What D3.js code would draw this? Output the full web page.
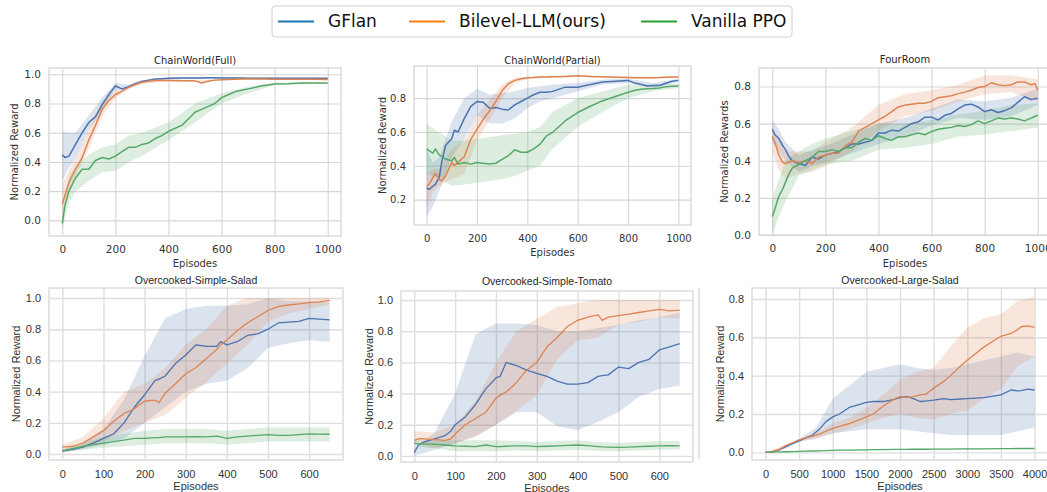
<!DOCTYPE html>
<html>
<head>
<meta charset="UTF-8">
<title>GFlan vs Bilevel-LLM vs Vanilla PPO</title>
<script src="https://d3js.org/d3.v7.min.js"></script>
<style>
  body { margin: 0; background: #fff; }
</style>
</head>
<body>
<svg id="chart"></svg>
<script>
const W = 1047, H = 492;

// ---------- data ----------
const seriesNames = ["GFlan", "Bilevel-LLM(ours)", "Vanilla PPO"];

const xTicks1000 = [0, 200, 400, 600, 800, 1000];
const xTicks650 = [0, 100, 200, 300, 400, 500, 600];
const xTicks4000 = [0, 500, 1000, 1500, 2000, 2500, 3000, 3500, 4000];
const yTicks10 = [0, 0.2, 0.4, 0.6, 0.8, 1.0];
const yTicks08 = [0, 0.2, 0.4, 0.6, 0.8];
const yTicksPartial = [0.2, 0.4, 0.6, 0.8];

// ChainWorld(Full)
const fullX = [0,10,25,50,75,100,125,150,175,200,225,250,275,300,325,350,375,400,450,500,525,550,575,600,625,650,675,700,750,800,850,900,950,1000];
const fullGflan = [0.45,0.43,0.44,0.52,0.60,0.67,0.71,0.79,0.86,0.92,0.90,0.915,0.935,0.95,0.96,0.968,0.97,0.972,0.974,0.975,0.975,0.976,0.976,0.975,0.975,0.974,0.974,0.973,0.972,0.972,0.972,0.972,0.972,0.972];
const fullBilevel = [0.11,0.17,0.26,0.35,0.43,0.55,0.65,0.76,0.82,0.86,0.885,0.91,0.93,0.945,0.952,0.957,0.958,0.957,0.956,0.955,0.94,0.952,0.96,0.963,0.965,0.966,0.967,0.967,0.967,0.966,0.966,0.966,0.966,0.965];
const fullPpo = [-0.02,0.10,0.20,0.29,0.35,0.35,0.41,0.43,0.42,0.44,0.47,0.50,0.50,0.52,0.53,0.56,0.58,0.61,0.65,0.74,0.76,0.78,0.80,0.84,0.86,0.88,0.89,0.90,0.92,0.933,0.935,0.94,0.94,0.94];
const fullBandX = [0,25,50,100,150,200,250,300,400,500,600,700,800,900,1000];
const fullGflanLo = [0.27,0.36,0.42,0.62,0.74,0.89,0.905,0.94,0.965,0.97,0.97,0.968,0.967,0.967,0.967];
const fullGflanHi = [0.61,0.60,0.60,0.72,0.84,0.94,0.93,0.96,0.978,0.98,0.98,0.978,0.977,0.977,0.977];
const fullBilevelLo = [0.04,0.18,0.30,0.49,0.71,0.84,0.895,0.935,0.95,0.945,0.957,0.962,0.962,0.962,0.96];
const fullBilevelHi = [0.25,0.34,0.42,0.62,0.82,0.885,0.925,0.955,0.964,0.962,0.968,0.972,0.971,0.971,0.97];
const fullPpoLo = [-0.06,0.12,0.20,0.27,0.33,0.34,0.40,0.44,0.55,0.67,0.80,0.87,0.925,0.933,0.933];
const fullPpoHi = [0.05,0.30,0.37,0.45,0.50,0.52,0.58,0.60,0.67,0.80,0.87,0.915,0.942,0.946,0.946];

// ChainWorld(Partial)
const partX = [0,10,25,35,50,60,75,100,110,125,150,175,200,225,250,275,300,325,350,375,400,425,450,475,500,550,600,650,700,750,800,825,850,875,900,925,950,975,1000];
const partGflan = [0.27,0.26,0.28,0.29,0.33,0.42,0.52,0.56,0.61,0.60,0.68,0.75,0.78,0.775,0.74,0.745,0.735,0.73,0.76,0.78,0.80,0.82,0.835,0.835,0.84,0.865,0.865,0.88,0.895,0.90,0.905,0.89,0.882,0.872,0.875,0.875,0.888,0.90,0.905];
const partBilevel = [0.28,0.29,0.33,0.355,0.32,0.31,0.34,0.42,0.40,0.42,0.455,0.555,0.615,0.675,0.725,0.78,0.845,0.885,0.905,0.915,0.92,0.922,0.925,0.925,0.927,0.928,0.932,0.928,0.926,0.924,0.922,0.92,0.92,0.92,0.921,0.922,0.924,0.925,0.925];
const partPpo = [0.50,0.49,0.475,0.50,0.465,0.455,0.44,0.43,0.45,0.41,0.42,0.41,0.42,0.415,0.41,0.415,0.438,0.46,0.495,0.48,0.48,0.50,0.527,0.575,0.597,0.665,0.715,0.752,0.785,0.81,0.835,0.845,0.852,0.855,0.857,0.86,0.868,0.87,0.872];
const partBandX = [0,25,50,100,150,200,250,300,350,400,450,500,600,700,800,900,1000];
const partGflanLo = [0.10,0.16,0.25,0.45,0.56,0.70,0.65,0.65,0.68,0.74,0.78,0.80,0.84,0.88,0.89,0.86,0.895];
const partGflanHi = [0.50,0.42,0.45,0.66,0.80,0.855,0.82,0.83,0.84,0.86,0.87,0.88,0.89,0.91,0.915,0.89,0.915];
const partBilevelLo = [0.15,0.25,0.28,0.32,0.35,0.55,0.67,0.80,0.89,0.912,0.918,0.92,0.925,0.92,0.916,0.915,0.92];
const partBilevelHi = [0.35,0.38,0.38,0.50,0.55,0.70,0.79,0.88,0.92,0.928,0.932,0.934,0.938,0.932,0.928,0.927,0.93];
const partPpoLo = [0.35,0.34,0.33,0.28,0.29,0.30,0.31,0.32,0.34,0.37,0.40,0.50,0.63,0.72,0.80,0.84,0.86];
const partPpoHi = [0.65,0.62,0.60,0.55,0.55,0.56,0.57,0.58,0.59,0.60,0.63,0.72,0.80,0.84,0.88,0.88,0.885];

// FourRoom
const fourX = [0,10,25,40,50,60,75,100,125,150,175,200,225,250,275,300,325,350,375,400,425,450,475,500,525,550,575,600,625,650,675,700,725,750,775,800,825,850,875,900,925,950,975,990,1000];
const fourGflan = [0.57,0.54,0.52,0.48,0.46,0.43,0.40,0.385,0.375,0.42,0.41,0.43,0.44,0.45,0.47,0.49,0.49,0.50,0.51,0.55,0.55,0.565,0.56,0.58,0.60,0.61,0.635,0.635,0.62,0.645,0.655,0.68,0.70,0.705,0.69,0.665,0.675,0.66,0.67,0.685,0.715,0.745,0.73,0.735,0.735];
const fourBilevel = [0.53,0.50,0.43,0.39,0.385,0.39,0.40,0.39,0.40,0.385,0.42,0.43,0.44,0.44,0.48,0.50,0.56,0.58,0.60,0.62,0.64,0.665,0.69,0.70,0.705,0.71,0.71,0.72,0.74,0.745,0.75,0.762,0.77,0.78,0.795,0.80,0.82,0.81,0.805,0.81,0.825,0.825,0.81,0.815,0.78];
const fourPpo = [0.10,0.14,0.21,0.25,0.285,0.32,0.36,0.38,0.40,0.42,0.45,0.45,0.46,0.45,0.47,0.47,0.50,0.52,0.51,0.535,0.52,0.51,0.53,0.53,0.54,0.55,0.54,0.557,0.57,0.575,0.58,0.59,0.585,0.595,0.615,0.60,0.615,0.63,0.625,0.63,0.625,0.615,0.63,0.64,0.645];
const fourBandX = [0,25,50,100,150,200,300,400,500,600,700,800,900,1000];
const fourGflanLo = [0.50,0.45,0.40,0.34,0.37,0.39,0.44,0.49,0.53,0.59,0.63,0.62,0.64,0.70];
const fourGflanHi = [0.62,0.57,0.50,0.43,0.46,0.48,0.54,0.60,0.63,0.68,0.73,0.72,0.74,0.79];
const fourBilevelLo = [0.45,0.35,0.30,0.33,0.34,0.37,0.45,0.56,0.64,0.67,0.72,0.76,0.77,0.72];
const fourBilevelHi = [0.58,0.52,0.45,0.45,0.45,0.50,0.58,0.70,0.76,0.78,0.81,0.86,0.86,0.84];
const fourPpoLo = [0.00,0.10,0.18,0.32,0.35,0.38,0.40,0.46,0.47,0.49,0.53,0.54,0.56,0.58];
const fourPpoHi = [0.20,0.30,0.40,0.45,0.49,0.52,0.56,0.60,0.60,0.62,0.65,0.67,0.70,0.71];

// Overcooked-Simple-Salad
const ssX = [0,25,50,75,100,125,150,175,200,225,235,250,275,300,325,350,375,385,400,425,450,475,500,525,550,575,600,625,650];
const ssGflan = [0.02,0.03,0.045,0.07,0.10,0.13,0.20,0.30,0.38,0.47,0.48,0.50,0.58,0.635,0.70,0.69,0.69,0.72,0.70,0.72,0.76,0.77,0.80,0.84,0.845,0.85,0.87,0.865,0.86];
const ssBilevel = [0.045,0.05,0.07,0.11,0.15,0.21,0.26,0.29,0.34,0.345,0.33,0.39,0.45,0.515,0.555,0.61,0.67,0.70,0.73,0.79,0.84,0.88,0.92,0.945,0.955,0.962,0.97,0.975,0.985];
const ssPpo = [0.02,0.035,0.05,0.06,0.07,0.08,0.09,0.10,0.10,0.105,0.105,0.11,0.11,0.11,0.112,0.11,0.115,0.11,0.10,0.11,0.115,0.12,0.125,0.12,0.12,0.125,0.13,0.128,0.127];
const ssBandX = [0,50,100,150,200,250,300,350,400,450,500,550,600,650];
const ssGflanLo = [0.01,0.03,0.06,0.10,0.20,0.30,0.40,0.45,0.47,0.55,0.68,0.71,0.73,0.72];
const ssGflanHi = [0.03,0.06,0.16,0.35,0.63,0.87,0.93,0.95,0.95,0.96,1.00,0.98,0.98,0.97];
const ssBilevelLo = [0.03,0.04,0.08,0.15,0.20,0.25,0.36,0.46,0.58,0.70,0.85,0.90,0.93,0.96];
const ssBilevelHi = [0.06,0.11,0.23,0.40,0.45,0.55,0.70,0.80,0.95,1.00,1.00,1.00,1.00,1.00];
const ssPpoLo = [0.01,0.03,0.04,0.05,0.06,0.07,0.07,0.07,0.06,0.07,0.08,0.08,0.08,0.08];
const ssPpoHi = [0.03,0.07,0.11,0.13,0.15,0.16,0.16,0.16,0.15,0.16,0.17,0.17,0.17,0.17];

// Overcooked-Simple-Tomato
const stX = [0,10,25,50,75,90,100,125,150,175,200,210,225,250,275,300,325,350,375,400,425,450,460,475,500,525,550,575,600,625,650];
const stGflan = [0.02,0.07,0.09,0.11,0.13,0.16,0.20,0.25,0.33,0.43,0.50,0.51,0.60,0.58,0.55,0.53,0.51,0.48,0.46,0.46,0.47,0.51,0.515,0.52,0.57,0.56,0.60,0.62,0.68,0.70,0.72];
const stBilevel = [0.10,0.11,0.11,0.105,0.10,0.11,0.14,0.20,0.24,0.28,0.37,0.39,0.41,0.47,0.55,0.60,0.70,0.76,0.83,0.87,0.89,0.905,0.87,0.89,0.90,0.91,0.92,0.93,0.94,0.93,0.935];
const stPpo = [0.08,0.078,0.077,0.075,0.07,0.067,0.065,0.062,0.06,0.07,0.06,0.06,0.062,0.065,0.065,0.06,0.062,0.065,0.068,0.07,0.066,0.06,0.058,0.057,0.055,0.057,0.06,0.062,0.065,0.066,0.065];
const stBandX = [0,50,100,150,200,250,300,350,400,450,500,550,600,650];
const stGflanLo = [0.00,0.04,0.08,0.13,0.20,0.28,0.28,0.19,0.165,0.22,0.28,0.38,0.43,0.45];
const stGflanHi = [0.05,0.15,0.40,0.78,0.85,0.85,0.84,0.80,0.80,0.82,0.84,0.87,0.89,0.92];
const stBilevelLo = [0.08,0.05,0.08,0.12,0.20,0.29,0.39,0.62,0.74,0.76,0.84,0.86,0.89,0.88];
const stBilevelHi = [0.16,0.15,0.20,0.35,0.60,0.80,0.88,0.957,0.98,1.00,1.00,1.00,1.00,1.00];
const stPpoLo = [0.06,0.05,0.03,0.03,0.03,0.035,0.03,0.035,0.04,0.03,0.03,0.035,0.04,0.04];
const stPpoHi = [0.10,0.10,0.10,0.10,0.10,0.095,0.09,0.095,0.10,0.09,0.085,0.09,0.095,0.095];

// Overcooked-Large-Salad
const lsX = [0,100,200,300,400,500,600,700,800,900,1000,1100,1250,1400,1500,1600,1750,1900,2000,2100,2200,2300,2400,2500,2650,2750,2900,3000,3250,3500,3650,3750,3800,3900,4000];
const lsGflan = [0,0.002,0.012,0.03,0.045,0.06,0.075,0.09,0.12,0.16,0.185,0.20,0.235,0.25,0.26,0.265,0.265,0.275,0.285,0.29,0.28,0.265,0.268,0.272,0.28,0.275,0.278,0.28,0.285,0.30,0.325,0.32,0.322,0.33,0.325];
const lsBilevel = [0,0.002,0.015,0.035,0.05,0.065,0.075,0.085,0.095,0.11,0.125,0.135,0.15,0.17,0.185,0.20,0.24,0.275,0.29,0.285,0.29,0.30,0.305,0.335,0.37,0.40,0.45,0.48,0.55,0.605,0.62,0.64,0.655,0.66,0.652];
const lsPpo = [0,0.001,0.002,0.003,0.004,0.005,0.006,0.007,0.008,0.009,0.010,0.011,0.012,0.013,0.013,0.014,0.014,0.015,0.015,0.015,0.016,0.016,0.016,0.017,0.017,0.017,0.018,0.018,0.018,0.019,0.019,0.020,0.020,0.020,0.020];
const lsBandX = [0,250,500,750,1000,1250,1500,1750,2000,2250,2500,2750,3000,3250,3500,3750,4000];
const lsGflanLo = [0,0.015,0.055,0.07,0.10,0.11,0.12,0.12,0.12,0.11,0.10,0.09,0.09,0.09,0.09,0.11,0.13];
const lsGflanHi = [0,0.025,0.07,0.13,0.28,0.35,0.42,0.44,0.46,0.44,0.43,0.44,0.46,0.48,0.50,0.52,0.50];
const lsBilevelLo = [0,0.01,0.058,0.075,0.10,0.12,0.15,0.18,0.20,0.18,0.17,0.20,0.22,0.28,0.33,0.45,0.50];
const lsBilevelHi = [0,0.03,0.07,0.10,0.15,0.18,0.23,0.30,0.38,0.42,0.44,0.55,0.65,0.70,0.72,0.79,0.81];
const lsPpoLo = [0,0.001,0.003,0.005,0.008,0.010,0.011,0.012,0.013,0.014,0.015,0.015,0.016,0.016,0.017,0.017,0.018];
const lsPpoHi = [0,0.003,0.007,0.009,0.012,0.014,0.015,0.017,0.018,0.019,0.019,0.020,0.021,0.021,0.022,0.022,0.022];

// ---------- styling / layout ----------
const lineColors = ["#4c72b0", "#dd8452", "#55a868"];   // seaborn deep
const legendColors = ["#1f77b4", "#ff7f0e", "#2ca02c"]; // tab10 in the figure legend

const TOP = {font: "DejaVu Sans", tick: 10.5, label: 10, title: 10, lw: 1.5, grid: "#d6d6d6", gw: 1.1};
const BOT = {font: "Liberation Sans", tick: 11, label: 11, title: 10.5, lw: 1.3, grid: "#dedede", gw: 1.4};

const panels = [
  {title: "ChainWorld(Full)", ylabel: "Normalized Reward", style: TOP,
   xs: fullX, bx: fullBandX, means: [fullGflan, fullBilevel, fullPpo],
   lows: [fullGflanLo, fullBilevelLo, fullPpoLo], highs: [fullGflanHi, fullBilevelHi, fullPpoHi],
   xDomain: [-50, 1050], yDomain: [-0.107, 1.043], xTicks: xTicks1000, yTicks: yTicks10,
   box: [49, 68, 341, 236], titleY: 64, xlabelY: 267, ylabelX: 14},
  {title: "ChainWorld(Partial)", ylabel: "Normalized Reward", style: {...TOP, tick: 10},
   xs: partX, bx: partBandX, means: [partGflan, partBilevel, partPpo],
   lows: [partGflanLo, partBilevelLo, partPpoLo], highs: [partGflanHi, partBilevelHi, partPpoHi],
   xDomain: [-50, 1050], yDomain: [0.05, 0.99], xTicks: xTicks1000, yTicks: yTicksPartial,
   box: [414, 66, 691, 225], titleY: 63.5, xlabelY: 255.5, ylabelX: 382},
  {title: "FourRoom", ylabel: "Normalized Rewards", style: TOP,
   xs: fourX, bx: fourBandX, means: [fourGflan, fourBilevel, fourPpo],
   lows: [fourGflanLo, fourBilevelLo, fourPpoLo], highs: [fourGflanHi, fourBilevelHi, fourPpoHi],
   xDomain: [-50, 1050], yDomain: [0, 0.9], xTicks: xTicks1000, yTicks: yTicks08,
   box: [759, 68, 1051, 235], titleY: 62.5, xlabelY: 267, ylabelX: 724},
  {title: "Overcooked-Simple-Salad", ylabel: "Normalized Reward", style: BOT,
   xs: ssX, bx: ssBandX, means: [ssGflan, ssBilevel, ssPpo],
   lows: [ssGflanLo, ssBilevelLo, ssPpoLo], highs: [ssGflanHi, ssBilevelHi, ssPpoHi],
   xDomain: [-32.5, 682.5], yDomain: [-0.038, 1.064], xTicks: xTicks650, yTicks: yTicks10,
   box: [49, 288, 343, 460], titleY: 284, xlabelY: 489.5, ylabelX: 16},
  {title: "Overcooked-Simple-Tomato", ylabel: "Normalized Reward", style: BOT,
   xs: stX, bx: stBandX, means: [stGflan, stBilevel, stPpo],
   lows: [stGflanLo, stBilevelLo, stPpoLo], highs: [stGflanHi, stBilevelHi, stPpoHi],
   xDomain: [-32.5, 682.5], yDomain: [-0.039, 1.058], xTicks: xTicks650, yTicks: yTicks10,
   box: [401, 291, 693, 462], titleY: 285, xlabelY: 492, ylabelX: 369},
  {title: "Overcooked-Large-Salad", ylabel: "Normalized Reward", style: BOT,
   xs: lsX, bx: lsBandX, means: [lsGflan, lsBilevel, lsPpo],
   lows: [lsGflanLo, lsBilevelLo, lsPpoLo], highs: [lsGflanHi, lsBilevelHi, lsPpoHi],
   xDomain: [-200, 4200], yDomain: [-0.04, 0.857], xTicks: xTicks4000, yTicks: yTicks08,
   box: [752, 288, 1048, 460], titleY: 284, xlabelY: 489.5, ylabelX: 720}
];

const svg = d3.select("#chart")
  .attr("width", W)
  .attr("height", H)
  .style("display", "block");

svg.append("rect").attr("width", W).attr("height", H).attr("fill", "#fff");

// edge of the last subplot's image, visible in the figure
svg.append("line")
  .attr("x1", 699).attr("x2", 699).attr("y1", 288).attr("y2", 459)
  .attr("stroke", "#d4d4d4").attr("stroke-width", 1.3);

panels.forEach((p, i) => {
  const [l, t, r, b] = p.box;
  const s = p.style;
  const x = d3.scaleLinear().domain(p.xDomain).range([l, r]);
  const y = d3.scaleLinear().domain(p.yDomain).range([b, t]);
  const g = svg.append("g").attr("font-family", s.font);

  svg.append("clipPath").attr("id", "clip" + i)
    .append("rect").attr("x", l).attr("y", t).attr("width", r - l).attr("height", b - t);

  // grid
  g.append("g")
    .attr("transform", `translate(0,${b})`)
    .call(d3.axisBottom(x).tickValues(p.xTicks).tickSize(-(b - t)).tickFormat(""))
    .call(a => a.select(".domain").remove())
    .selectAll("line").attr("stroke", s.grid).attr("stroke-width", s.gw);
  g.append("g")
    .attr("transform", `translate(${l},0)`)
    .call(d3.axisLeft(y).tickValues(p.yTicks).tickSize(-(r - l)).tickFormat(""))
    .call(a => a.select(".domain").remove())
    .selectAll("line").attr("stroke", s.grid).attr("stroke-width", s.gw);

  const plot = g.append("g").attr("clip-path", `url(#clip${i})`);

  // confidence bands
  p.means.forEach((m, k) => {
    const area = d3.area()
      .x((d, j) => x(p.bx[j]))
      .y0((d, j) => y(p.lows[k][j]))
      .y1((d, j) => y(p.highs[k][j]));
    plot.append("path")
      .datum(p.bx)
      .attr("d", area)
      .attr("fill", lineColors[k])
      .attr("fill-opacity", 0.2);
  });

  // mean curves
  p.means.forEach((m, k) => {
    const line = d3.line()
      .x((d, j) => x(p.xs[j]))
      .y(d => y(d));
    plot.append("path")
      .datum(m)
      .attr("d", line)
      .attr("fill", "none")
      .attr("stroke", lineColors[k])
      .attr("stroke-width", s.lw)
      .attr("stroke-linejoin", "round");
  });

  // frame
  g.append("rect")
    .attr("x", l).attr("y", t).attr("width", r - l).attr("height", b - t)
    .attr("fill", "none").attr("stroke", s.grid).attr("stroke-width", s.gw + 0.2);

  // tick labels
  g.append("g")
    .attr("transform", `translate(0,${b})`)
    .call(d3.axisBottom(x).tickValues(p.xTicks).tickSize(0).tickPadding(10).tickFormat(d3.format("d")))
    .call(a => a.select(".domain").remove())
    .attr("font-family", s.font).attr("font-size", s.tick).attr("color", "#333");
  g.append("g")
    .attr("transform", `translate(${l},0)`)
    .call(d3.axisLeft(y).tickValues(p.yTicks).tickSize(0).tickPadding(8).tickFormat(d3.format(".1f")))
    .call(a => a.select(".domain").remove())
    .attr("font-family", s.font).attr("font-size", s.tick).attr("color", "#333");

  // titles / labels
  g.append("text")
    .attr("x", (l + r) / 2).attr("y", p.titleY)
    .attr("text-anchor", "middle")
    .attr("font-size", s.title).attr("fill", "#262626")
    .text(p.title);
  g.append("text")
    .attr("x", (l + r) / 2).attr("y", p.xlabelY)
    .attr("text-anchor", "middle")
    .attr("font-size", s.label).attr("fill", "#333")
    .text("Episodes");
  g.append("text")
    .attr("transform", `translate(${p.ylabelX},${(t + b) / 2})rotate(-90)`)
    .attr("dy", "0.35em")
    .attr("text-anchor", "middle")
    .attr("font-size", s.label).attr("fill", "#333")
    .text(p.ylabel);
});

// legend
const legend = svg.append("g").attr("font-family", "DejaVu Sans");
legend.append("rect")
  .attr("x", 272).attr("y", 6).attr("width", 520).attr("height", 31).attr("rx", 3)
  .attr("fill", "#fff").attr("stroke", "#d0d0d0").attr("stroke-width", 1);
const legendX = [278, 409, 641];
seriesNames.forEach((name, k) => {
  legend.append("line")
    .attr("x1", legendX[k]).attr("x2", legendX[k] + 36)
    .attr("y1", 21.5).attr("y2", 21.5)
    .attr("stroke", legendColors[k]).attr("stroke-width", 2);
  legend.append("text")
    .attr("x", legendX[k] + 50).attr("y", 21.5)
    .attr("dy", "0.35em")
    .attr("font-size", 17).attr("fill", "#111")
    .text(name);
});
</script>
</body>
</html>
